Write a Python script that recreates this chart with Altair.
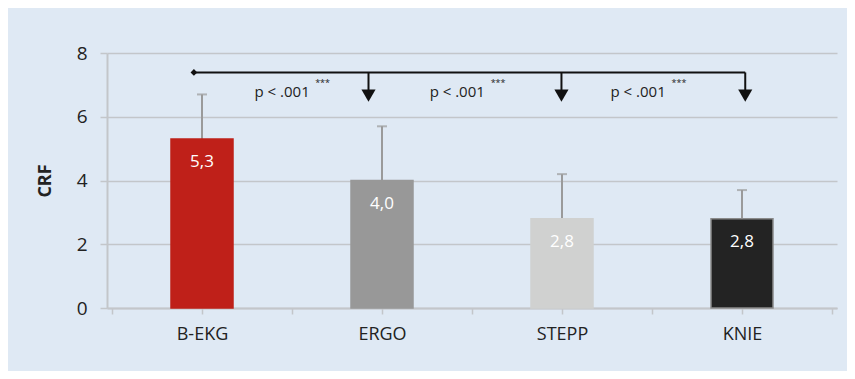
import altair as alt
import pandas as pd

# ---- data ----
categories = ["B-EKG", "ERGO", "STEPP", "KNIE"]
positions = [0.5, 1.5, 2.5, 3.5]
means = [5.3, 4.0, 2.8, 2.8]
sds_upper = [6.7, 5.7, 4.2, 3.7]
value_labels = ["5,3", "4,0", "2,8", "2,8"]
fills = ["#bf2019", "#989898", "#d0d1d0", "#232323"]
strokes = ["#bf2019", "#989898", "#d0d1d0", "#8a8a8a"]

# annotation (significance bracket) in data units
bracket_start = 0.455
bracket_level = 7.39
arrow_x = [1.425, 2.497, 3.518]
arrow_stem_end = 6.84
arrow_head_y = 6.66
p_text_x = [0.945, 1.918, 2.923]
p_text_y = 6.62
p_texts = ["p < .001", "p < .001", "p < .001"]
star_x = [1.17, 2.145, 3.15]
star_y = 7.05

y_ticks = [0, 2, 4, 6, 8]
x_ticks = [0, 0.5, 1, 1.5, 2, 2.5, 3, 3.5, 4]

FONT = "Open Sans"
GRID = "#c3c6ca"

bars = pd.DataFrame({"cat": categories, "x": positions, "mean": means,
                     "upper": sds_upper, "lab": value_labels,
                     "fill": fills, "stroke": strokes})

label_expr = " : ".join(
    f"datum.value == {p} ? '{c}'" for p, c in zip(positions, categories)
) + " : ''"

x_scale = alt.Scale(domain=[0, 4], nice=False, zero=False)
y_scale = alt.Scale(domain=[0, 8], nice=False)

x_enc = alt.X("x:Q", scale=x_scale, axis=alt.Axis(
    values=x_ticks, labelExpr=label_expr, grid=False, title=None,
    tickSize=6, tickColor=GRID, tickWidth=1.5, domainColor=GRID, domainWidth=2,
    labelFontSize=18, labelColor="#222222", labelPadding=11, labelFont=FONT,
    labelOverlap=False, labelFlush=False))
y_enc = alt.Y("mean:Q", scale=y_scale, axis=alt.Axis(
    values=y_ticks, grid=True, gridColor=GRID, gridWidth=1.5,
    domainColor=GRID, domainWidth=2, tickColor=GRID, tickWidth=1.5, tickSize=7,
    labelFontSize=19, labelColor="#222222", labelPadding=13, labelFont=FONT,
    title="CRF", titleFontSize=18, titleFontWeight="bold", titleFont=FONT,
    titleColor="#222222", titlePadding=22))

base = alt.Chart(bars)

err = base.mark_rule(color="#9a9a9a", strokeWidth=2).encode(
    x=x_enc, y=y_enc, y2="upper:Q")
cap = base.mark_tick(orient="horizontal", color="#9a9a9a", size=10, thickness=2).encode(
    x="x:Q", y=alt.Y("upper:Q", scale=y_scale))
bar = base.mark_bar(size=62, strokeWidth=1.5).encode(
    x="x:Q", y=alt.Y("mean:Q", scale=y_scale),
    fill=alt.Fill("fill:N", scale=None),
    stroke=alt.Stroke("stroke:N", scale=None))
txt = base.mark_text(color="white", fontSize=17, font=FONT, dy=23, baseline="middle").encode(
    x="x:Q", y=alt.Y("mean:Q", scale=y_scale), text="lab:N")

# bracket
hline_df = pd.DataFrame({"x": [bracket_start], "x2": [arrow_x[-1]], "y": [bracket_level]})
hline = alt.Chart(hline_df).mark_rule(color="#111111", strokeWidth=2).encode(
    x=alt.X("x:Q", scale=x_scale), x2="x2:Q", y=alt.Y("y:Q", scale=y_scale))
diamond = alt.Chart(hline_df).mark_point(shape="diamond", filled=True, color="#111111",
                                         size=45, opacity=1).encode(
    x=alt.X("x:Q", scale=x_scale), y=alt.Y("y:Q", scale=y_scale))
arr_df = pd.DataFrame({"x": arrow_x, "y": [bracket_level] * 3,
                       "y2": [arrow_stem_end] * 3, "yh": [arrow_head_y] * 3})
stems = alt.Chart(arr_df).mark_rule(color="#111111", strokeWidth=2).encode(
    x=alt.X("x:Q", scale=x_scale), y=alt.Y("y:Q", scale=y_scale), y2="y2:Q")
heads = alt.Chart(arr_df).mark_point(shape="triangle-down", filled=True, color="#111111",
                                     size=200, opacity=1).encode(
    x=alt.X("x:Q", scale=x_scale), y=alt.Y("yh:Q", scale=y_scale))
p_df = pd.DataFrame({"x": p_text_x, "y": [p_text_y] * 3, "t": p_texts})
ptxt = alt.Chart(p_df).mark_text(fontSize=15, font=FONT, color="#222222",
                                 baseline="alphabetic").encode(
    x=alt.X("x:Q", scale=x_scale), y=alt.Y("y:Q", scale=y_scale), text="t:N")
s_df = pd.DataFrame({"x": star_x, "y": [star_y] * 3, "t": ["***"] * 3})
stars = alt.Chart(s_df).mark_text(fontSize=9, font=FONT, color="#222222",
                                  baseline="middle").encode(
    x=alt.X("x:Q", scale=x_scale), y=alt.Y("y:Q", scale=y_scale), text="t:N")

chart = alt.layer(err, cap, bar, txt, hline, diamond, stems, heads, ptxt, stars).properties(
    width=730, height=255,
    autosize=alt.AutoSizeParams(type="none"),
    padding={"left": 99, "top": 45, "right": 10, "bottom": 63},
    background="#dfe9f4",
).configure_view(stroke=None)

chart.save("out.html", embed_options={"renderer": "svg", "actions": False})
